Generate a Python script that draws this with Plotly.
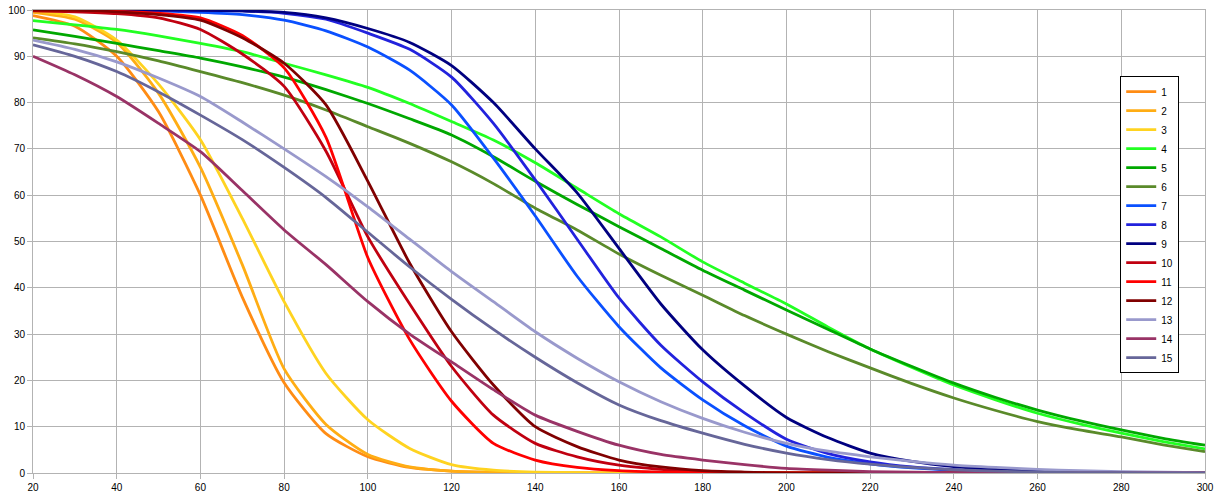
import plotly.graph_objects as go

# x positions sampled every 10 units
x_vals = list(range(20, 301, 10))

names = [str(i) for i in range(1, 16)]

s1 = [98.8, 96.5, 90, 78, 60, 38, 19.5, 8.5, 3.5, 1.2, 0.4, 0.1, 0.05, 0, 0, 0, 0, 0, 0, 0, 0, 0, 0, 0, 0, 0, 0, 0, 0]
s2 = [99.5, 98, 93, 82, 66, 45, 22.5, 10.5, 4, 1.3, 0.4, 0.15, 0.05, 0, 0, 0, 0, 0, 0, 0, 0, 0, 0, 0, 0, 0, 0, 0, 0]
s3 = [99.8, 98.5, 93.5, 84, 72, 55, 37, 21.5, 11.5, 5.3, 1.8, 0.6, 0.2, 0.05, 0, 0, 0, 0, 0, 0, 0, 0, 0, 0, 0, 0, 0, 0, 0]
s4 = [97.7, 96.8, 95.8, 94.4, 92.8, 91, 88.5, 86, 83.3, 79.8, 75.9, 71.9, 67, 61.5, 56, 51, 45.6, 41, 36.5, 31.5,
      26.8, 22.8, 19, 15.8, 12.9, 10.6, 8.6, 6.8, 5.2]
s5 = [95.7, 94.3, 92.8, 91.2, 89.6, 87.7, 85.5, 82.8, 79.8, 76.5, 73, 68.3, 63, 58, 53.2, 48.5, 43.8, 39.5, 35.2, 31,
      26.8, 23, 19.4, 16.3, 13.6, 11.3, 9.3, 7.5, 6]
s6 = [94, 92.7, 91, 89, 86.7, 84.3, 81.6, 78.4, 74.8, 71.2, 67.2, 62.5, 57.2, 52.5, 47.3, 42.7, 38.4, 34, 30, 26.2,
      22.7, 19.3, 16.2, 13.5, 11.1, 9.3, 7.8, 6.1, 4.6]
s7 = [100, 100, 99.9, 99.8, 99.5, 99, 97.8, 95.5, 92, 87, 79.5, 68, 55.5, 42.5, 31.6, 22.7, 15.8, 10.2, 5.8, 3.4,
      2, 1.1, 0.6, 0.3, 0.15, 0.05, 0, 0, 0]
s8 = [100, 100, 100, 99.9, 99.9, 99.8, 99.3, 98, 95, 91.5, 85.5, 75.5, 63.3, 50.5, 37.8, 27.6, 19.7, 13, 7.3, 4.2,
      2.4, 1.3, 0.7, 0.35, 0.15, 0.05, 0, 0, 0]
s9 = [100, 100, 100, 100, 99.9, 99.8, 99.5, 98.3, 96, 93, 88, 80, 70, 60.5, 48.5, 36.5, 26.6, 18.8, 12, 7.6,
      4.3, 2.5, 1.4, 0.8, 0.4, 0.2, 0.1, 0, 0]
s10 = [99.8, 99.6, 99.2, 98.3, 95.8, 90.5, 83.5, 69.5, 51, 36.5, 23, 12.5, 6.4, 3.5, 1.7, 0.8, 0.3, 0.1, 0, 0,
       0, 0, 0, 0, 0, 0, 0, 0, 0]
s11 = [100, 99.9, 99.7, 99.3, 98.3, 94.5, 87.5, 72.5, 46.5, 28.8, 15.5, 6.4, 2.8, 1.2, 0.5, 0.2, 0.05, 0, 0, 0,
       0, 0, 0, 0, 0, 0, 0, 0, 0]
s12 = [100, 99.9, 99.6, 99, 97.8, 94, 88.5, 79.5, 63, 45.3, 30.5, 19, 10, 5.7, 2.8, 1.3, 0.5, 0.2, 0, 0,
       0, 0, 0, 0, 0, 0, 0, 0, 0]
s13 = [93.5, 91.5, 88.8, 85.3, 81.3, 75.8, 70, 64, 57.5, 50.5, 43.5, 37, 30.5, 24.8, 19.7, 15.4, 11.8, 8.8, 6.4, 4.7,
       3.5, 2.5, 1.7, 1.2, 0.8, 0.5, 0.3, 0.2, 0.1]
s14 = [90, 86, 81.3, 75.5, 69.4, 61, 52.5, 45, 37, 30, 24, 18, 12.5, 9, 6, 4, 2.8, 1.8, 1, 0.6,
       0.3, 0.2, 0.1, 0.05, 0, 0, 0, 0, 0]
s15 = [92.5, 90, 86.7, 82.3, 77.3, 72, 66, 59.5, 52, 44.5, 37.5, 31, 25, 19.5, 14.7, 11.3, 8.6, 6.2, 4.3, 2.9,
       1.9, 1.2, 0.7, 0.4, 0.2, 0.1, 0.05, 0, 0]

series = [s1, s2, s3, s4, s5, s6, s7, s8, s9, s10, s11, s12, s13, s14, s15]

colors = ["#ff8c14", "#ffad14", "#ffd320", "#22ff22", "#00a800", "#5a8a2a", "#0a50ff", "#2222dd",
          "#000080", "#c00010", "#ff0000", "#800000", "#9999cc", "#993366", "#666699"]

grid_col = "#b3b3b3"

fig = go.Figure()
for name, ys, col in zip(names, series, colors):
    fig.add_trace(go.Scatter(x=x_vals, y=ys, name=name, mode="lines",
                             line=dict(color=col, width=2.8, shape="spline", smoothing=0.6)))

fig.update_layout(
    width=1220, height=500,
    margin=dict(l=33, r=15, t=10, b=27),
    paper_bgcolor="white", plot_bgcolor="white",
    font=dict(family="Liberation Sans, Arial, sans-serif", size=10, color="black"),
    legend=dict(x=0.978, xanchor="right", y=0.857, yanchor="top",
                bgcolor="white", bordercolor="black", borderwidth=1,
                font=dict(size=10), itemwidth=30, tracegroupgap=0),
    showlegend=True,
)
fig.update_xaxes(range=[20, 300], dtick=20, tick0=20, showgrid=True, gridcolor=grid_col, gridwidth=1,
                 showline=True, linecolor=grid_col, mirror=True, zeroline=False, automargin=False,
                 ticks="outside", ticklen=5, tickcolor=grid_col)
fig.update_yaxes(range=[0, 100], dtick=10, showgrid=True, gridcolor=grid_col, gridwidth=1,
                 showline=True, linecolor=grid_col, mirror=True, zeroline=False, automargin=False,
                 ticks="outside", ticklen=5, tickcolor=grid_col)

# drop the default page margin so the chart sits at the window's corner
fig.write_html("out.html", config={"displayModeBar": False},
               post_script="document.body.style.margin='0';")
